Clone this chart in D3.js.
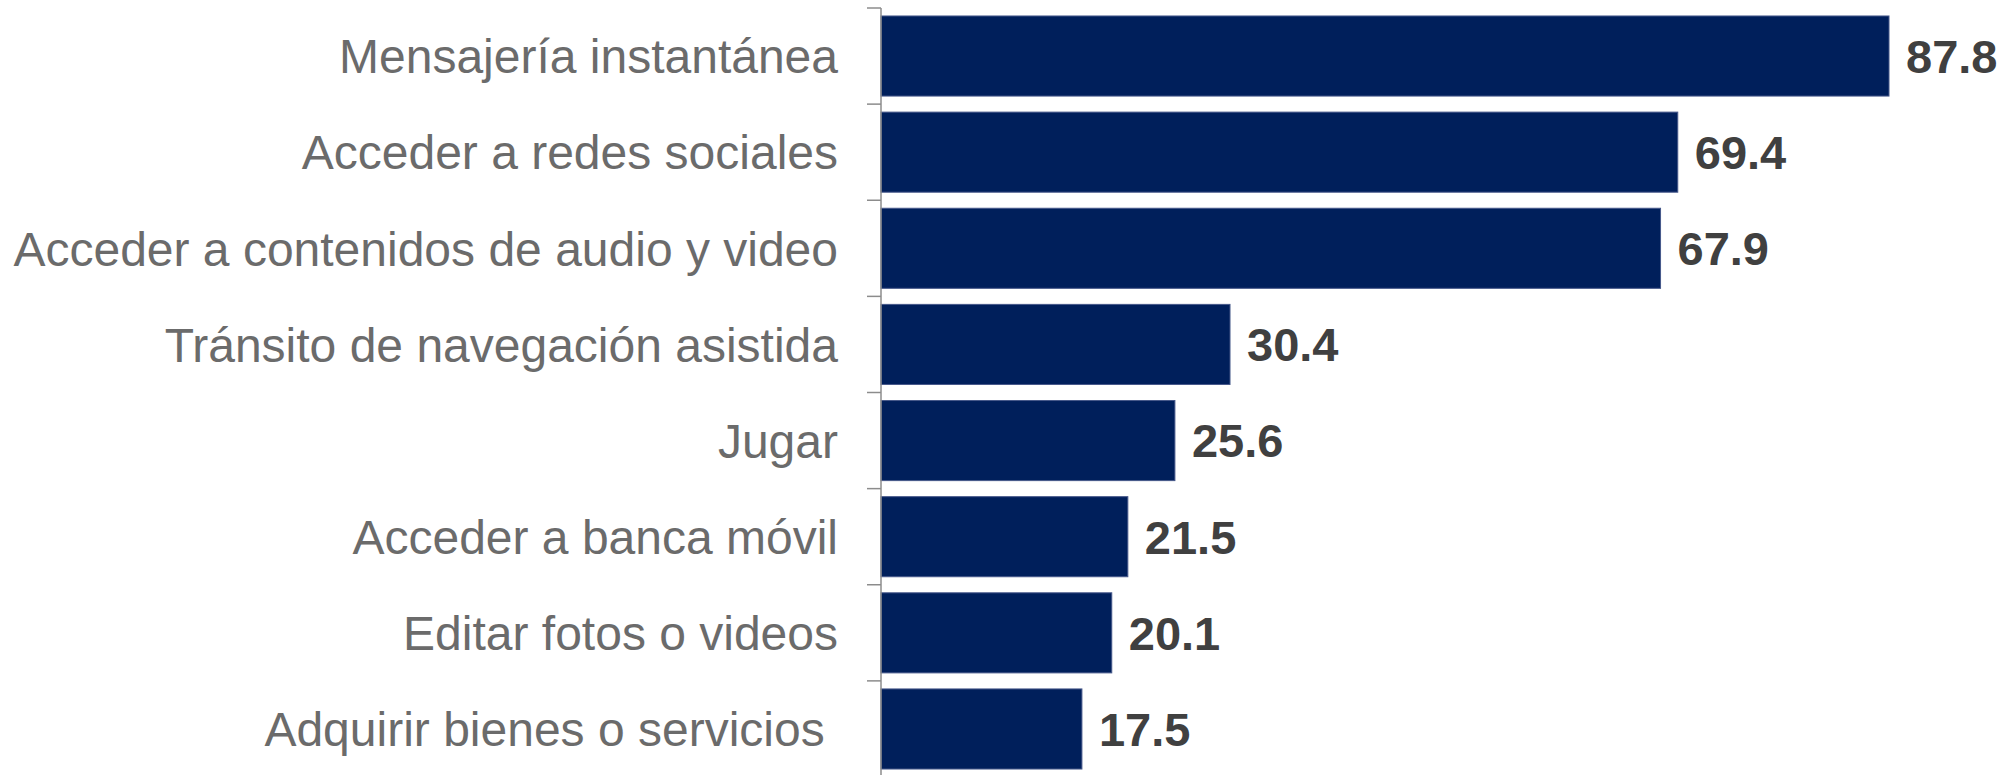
<!DOCTYPE html>
<html>
<head>
<meta charset="utf-8">
<script src="https://cdn.jsdelivr.net/npm/d3@7"></script>
<style>
  html, body { margin: 0; padding: 0; background: #fff; }
  svg { display: block; }
</style>
</head>
<body>
<svg id="chart" width="2015" height="775"></svg>
<script>
const categories = [
  "Mensajería instantánea",
  "Acceder a redes sociales",
  "Acceder a contenidos de audio y video",
  "Tránsito de navegación asistida",
  "Jugar",
  "Acceder a banca móvil",
  "Editar fotos o videos",
  "Adquirir bienes o servicios "
];
const values = [87.8, 69.4, 67.9, 30.4, 25.6, 21.5, 20.1, 17.5];
const valueLabels = ["87.8", "69.4", "67.9", "30.4", "25.6", "21.5", "20.1", "17.5"];

const svg = d3.select("#chart");
const x0 = 881, axisTop = 8, axisBottom = 777;

const x = d3.scaleLinear().domain([0, 87.8]).range([x0, 1889]);
const y = d3.scaleBand().domain(categories).range([axisTop, axisBottom])
  .paddingInner(0.167).paddingOuter(0.083);

// bars
svg.selectAll("rect.bar").data(values).enter().append("rect")
  .attr("class", "bar")
  .attr("x", x(0))
  .attr("y", (d, i) => y(categories[i]))
  .attr("width", d => x(d) - x(0))
  .attr("height", y.bandwidth())
  .attr("fill", "#001f5b")
  .attr("stroke", "#46588a")
  .attr("stroke-width", 1);

// axis
const axis = d3.axisLeft(y).tickSize(14).tickFormat("");
const yEdge = d3.scaleLinear().domain([0, categories.length]).range([axisTop, axisBottom]);
const g = svg.append("g").attr("transform", `translate(${x0},0)`);
g.append("line").attr("x1", 0).attr("x2", 0).attr("y1", axisTop).attr("y2", axisBottom)
  .attr("stroke", "#8c8c8c").attr("stroke-width", 1.5);
g.selectAll("line.tick").data(d3.range(categories.length)).enter().append("line")
  .attr("class", "tick")
  .attr("x1", -14).attr("x2", 0)
  .attr("y1", d => yEdge(d)).attr("y2", d => yEdge(d))
  .attr("stroke", "#8c8c8c").attr("stroke-width", 1.5);

// category labels
svg.selectAll("text.cat").data(categories).enter().append("text")
  .attr("class", "cat")
  .attr("x", 838)
  .attr("y", d => y(d) + y.bandwidth() / 2)
  .attr("dy", "0.36em")
  .attr("text-anchor", "end")
  .style("white-space", "pre")
  .attr("font-family", "Liberation Sans, Arial, sans-serif")
  .attr("font-size", 48)
  .attr("fill", "#6b6b6b")
  .text(d => d);

// value labels
svg.selectAll("text.val").data(values).enter().append("text")
  .attr("class", "val")
  .attr("x", d => x(d) + 17)
  .attr("y", (d, i) => y(categories[i]) + y.bandwidth() / 2)
  .attr("dy", "0.36em")
  .attr("font-family", "Liberation Sans, Arial, sans-serif")
  .attr("font-weight", "bold")
  .attr("font-size", 47)
  .attr("fill", "#404040")
  .text((d, i) => valueLabels[i]);
</script>
</body>
</html>
